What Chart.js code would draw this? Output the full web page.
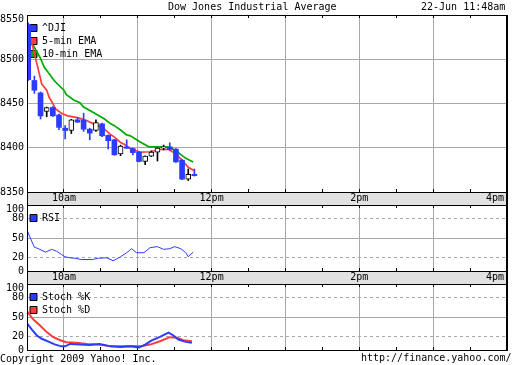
<!DOCTYPE html>
<html>
<head>
<meta charset="utf-8">
<script src="https://cdn.jsdelivr.net/npm/chart.js@4"></script>
<style>
  body { margin: 0; background: #fff; }
  #wrap { position: relative; width: 512px; height: 365px; overflow: hidden; font: 10px 'DejaVu Sans Mono', monospace; color: #000; }
  canvas { position: absolute; left: 0; }
  .txt { position: absolute; white-space: pre; line-height: 12px; }
</style>
</head>
<body>
<div id="wrap">
  <canvas id="main" width="512" height="212" style="top:0"></canvas>
  <canvas id="rsi" width="512" height="96" style="top:195px"></canvas>
  <canvas id="stoch" width="512" height="91" style="top:274px"></canvas>
  <div class="txt" style="left:168px;top:1px">Dow Jones Industrial Average</div>
  <div class="txt" style="left:421px;top:1px">22-Jun 11:48am</div>
  <div class="txt" style="left:0;top:353px">Copyright 2009 Yahoo! Inc.</div>
  <div class="txt" style="left:361px;top:352px">http://finance.yahoo.com/</div>
</div>
<script>
// axis ticks
const priceTicks = [8350, 8400, 8450, 8500, 8550]
const oscTicks = [0, 20, 50, 80, 100]
const timeTicks = ['09:30', '10:00', '10:30', '11:00', '11:30', '12:00', '12:30', '13:00',
                   '13:30', '14:00', '14:30', '15:00', '15:30', '16:00']
const labelTimes = ['10:00', '12:00', '14:00', '16:00']
const labelTexts = ['10am', '12pm', '2pm', '4pm']

// 5-min candles
const candleTimes = ['09:30', '09:35', '09:40', '09:45', '09:50', '09:55', '10:00', '10:05', '10:10', '10:15',
                     '10:20', '10:25', '10:30', '10:35', '10:40', '10:45', '10:50', '10:55', '11:00', '11:05',
                     '11:10', '11:15', '11:20', '11:25', '11:30', '11:35', '11:40', '11:45']
const openPx = [8539, 8476, 8462, 8441, 8445.5, 8437, 8422, 8419.5, 8431.5, 8431, 8421, 8419.5, 8427, 8414,
                8409, 8393, 8401, 8399, 8395, 8384.5, 8390.5, 8395, 8399.4, 8401, 8398.5, 8386, 8364.5, 8370]
const highPx = [8541, 8481, 8463, 8446, 8446.5, 8438, 8425, 8432, 8434, 8439, 8422, 8431.5, 8428, 8414.5,
                8409.5, 8403, 8409, 8399.5, 8396, 8391, 8396.5, 8400, 8403, 8405.5, 8399, 8386.5, 8376, 8376]
const lowPx = [8476, 8461.5, 8432.5, 8435, 8435.5, 8420.5, 8410, 8416, 8428.5, 8418.5, 8409, 8418.5, 8412.5, 8398.5,
               8391.5, 8391, 8399, 8392, 8384, 8381, 8390, 8385, 8397.5, 8397.5, 8383.5, 8364, 8363, 8368]
const closePx = [8477, 8465, 8436, 8445.5, 8436, 8423, 8419.5, 8431.5, 8429, 8421, 8416.5, 8428.5, 8413.5, 8408,
                 8392, 8402, 8399.5, 8394.5, 8384.5, 8390.5, 8395, 8399.5, 8401, 8398, 8384, 8364.5, 8370, 8368.5]

// moving averages
const ema5Times = ['09:34', '09:38', '09:42', '09:46', '09:48', '09:51', '09:53', '09:58', '10:03', '10:11',
                   '10:18', '10:24', '10:29', '10:33', '10:37', '10:41', '10:46', '10:49', '10:54', '11:02',
                   '11:10', '11:18', '11:25', '11:30', '11:36', '11:41', '11:46']
const ema5 = [8518, 8495, 8472, 8465, 8457, 8450, 8444, 8439, 8436, 8434, 8431, 8427, 8424, 8421, 8416, 8412,
              8406, 8404, 8399, 8395, 8395.5, 8398, 8398, 8394, 8386, 8378, 8374]
const ema10Times = ['09:35', '09:41', '09:44', '09:49', '09:52', '10:00', '10:02', '10:08', '10:13', '10:16',
                    '10:25', '10:33', '10:38', '10:41', '10:46', '10:51', '10:54', '11:02', '11:09', '11:18',
                    '11:26', '11:32', '11:39', '11:45']
const ema10 = [8516, 8501, 8491, 8482, 8476, 8465, 8460, 8454, 8451, 8446, 8439, 8432.5, 8427, 8425, 8420,
               8414.5, 8413.5, 8406.5, 8401, 8401, 8400.5, 8395.5, 8388, 8384]

// RSI
const rsiTimes = ['09:30', '09:32', '09:36', '09:39', '09:45', '09:50', '09:54', '09:58', '10:01', '10:05',
                  '10:09', '10:14', '10:23', '10:28', '10:35', '10:40', '10:46', '10:51', '10:55', '10:59',
                  '11:05', '11:10', '11:16', '11:21', '11:26', '11:30', '11:35', '11:39', '11:41', '11:45']
const rsi = [62.5, 53, 36, 34, 28.6, 32.8, 30, 25, 21.5, 20, 19.4, 17.4, 17.4, 19.4, 20, 15.4, 21.5, 27.7,
             33.8, 27.7, 27.7, 35.4, 36.9, 32.8, 33.8, 36.9, 33.8, 27.7, 21.5, 28.6]

// stochastics
const kTimes = ['09:30', '09:34', '09:38', '09:42', '09:47', '09:53', '09:58', '10:01', '10:05', '10:13',
                '10:21', '10:29', '10:38', '10:46', '10:54', '11:01', '11:06', '11:11', '11:18', '11:25',
                '11:29', '11:33', '11:39', '11:44']
const stochK = [40.5, 31, 22, 17, 13, 8.2, 5.5, 5.5, 9.2, 8.2, 7.7, 9.2, 5.5, 4.6, 5.5, 4, 8.2, 14.3, 20,
                26.2, 22, 15.8, 12.3, 10.8]
const dTimes = ['09:30', '09:35', '09:41', '09:46', '09:51', '09:57', '10:02', '10:10', '10:19', '10:29',
                '10:38', '10:46', '10:54', '11:02', '11:10', '11:18', '11:26', '11:32', '11:37', '11:44']
const stochD = [59, 46.6, 36.3, 27.1, 20, 14.8, 11.7, 10.8, 9.2, 8.2, 5.5, 5.5, 6.2, 5.5, 8.2, 13.2, 19.4,
                18.5, 14.8, 13.2]

const BLUE = '#2a3cff'
const RED = '#ff3c3c'
const GREEN = '#00aa00'
const GRID = '#a8a8a8'
const BAND = '#e1e1e1'
const FONT = "'DejaVu Sans Mono', monospace"

Chart.defaults.font.family = FONT
Chart.defaults.font.size = 10
Chart.defaults.color = '#000'

const toMin = t => {
    const [h, m] = t.split(':').map(Number)
    return h * 60 + m - 570
}
const pts = (times, vals) => times.map((t, i) => ({x: toMin(t), y: vals[i]}))
const tickValues = timeTicks.map(toMin)
const labelValues = labelTimes.map(toMin)
const isUp = i => closePx[i] > openPx[i]

function timeAxis(showLabels) {
    return {
        type: 'linear', position: 'bottom', min: 0, max: 390, offset: false,
        afterBuildTicks: s => { s.ticks = tickValues.map(v => ({value: v})) },
        afterFit: s => { s.height = showLabels ? 13 : 0; s.paddingLeft = 0; s.paddingRight = 0 },
        grid: {
            offset: false,
            color: c => (c.tick && c.tick.value % 60 === 30) ? GRID : 'rgba(0,0,0,0)',
            tickLength: -3, tickColor: '#000', tickWidth: 1
        },
        border: { color: '#000' },
        ticks: {
            display: showLabels, autoSkip: false, maxRotation: 0, minRotation: 0, padding: 3,
            callback: v => {
                const i = labelValues.indexOf(v)
                if (i < 0) return ''
                // last label sits inside the right frame
                return v === 390 ? labelTexts[i].padEnd(7) : labelTexts[i]
            }
        }
    }
}

const topAxis = {
    type: 'linear', position: 'top', min: 0, max: 390, offset: false,
    afterBuildTicks: s => { s.ticks = tickValues.map(v => ({value: v})) },
    afterFit: s => { s.height = 0 },
    grid: { offset: false, drawOnChartArea: false, tickLength: -3, tickColor: '#000' },
    border: { display: false },
    ticks: { display: false }
}

function valueAxis(ticks, min, max, dashed) {
    return {
        type: 'linear', min: min, max: max,
        afterBuildTicks: s => { s.ticks = ticks.map(v => ({value: v})) },
        afterFit: s => { s.width = 27; s.paddingTop = 0; s.paddingBottom = 0 },
        grid: {
            drawTicks: false,
            color: c => (c.tick && c.tick.value > min && c.tick.value < max) ? GRID : 'rgba(0,0,0,0)'
        },
        border: {
            color: '#000',
            dash: c => (dashed && c.tick && c.tick.value !== 50) ? [3, 3] : []
        },
        ticks: {
            padding: 3, autoSkip: false, font: { lineHeight: 0.8 },
            // top label hangs just below the frame line
            callback: v => v === max ? ['', String(v)] : String(v)
        }
    }
}

const frame = {
    id: 'frame',
    beforeDraw(chart) {
        const {ctx, chartArea: a, scales: {x}} = chart
        if (x.bottom > a.bottom) {
            ctx.fillStyle = BAND
            ctx.fillRect(a.left, a.bottom, a.right - a.left, x.bottom - a.bottom)
        }
    },
    afterDraw(chart) {
        const {ctx, chartArea: a, scales: {x}} = chart
        ctx.save()
        ctx.strokeStyle = '#000'
        ctx.lineWidth = 1
        ctx.strokeRect(a.left + 0.5, a.top + 0.5, a.right - a.left, x.bottom - a.top)
        ctx.fillStyle = '#000'
        ctx.fillRect(a.right - 1, a.top, 2, x.bottom - a.top + 1)
        ctx.restore()
    }
}

// a vertical legend inside the chart area starts at the canvas top,
// so the empty title pushes it down below the frame
function legendOpts(topPad) {
    return {
        position: 'chartArea', align: 'start',
        title: { display: true, text: '', padding: {top: topPad + 5, bottom: 0}, font: {size: 0} },
        labels: {
            boxWidth: 7, boxHeight: 7, padding: 3, color: '#000',
            font: { family: FONT, size: 10 },
            generateLabels: chart => chart.data.datasets
                .map((d, i) => ({text: d.label, fillStyle: d.legendColor, strokeStyle: '#000',
                                 lineWidth: 1, hidden: false, datasetIndex: i}))
                .filter(item => item.text)
        }
    }
}

function baseOptions(padding, scales) {
    return {
        responsive: false, animation: false, devicePixelRatio: 1, events: [],
        layout: { padding: padding },
        scales: scales,
        plugins: { legend: legendOpts(padding.top), tooltip: { enabled: false } }
    }
}

const lineStyle = (color, width) => ({
    type: 'line', borderColor: color, borderWidth: width, pointRadius: 0, tension: 0, fill: false
})

new Chart(document.getElementById('main'), {
    type: 'line',
    data: {
        datasets: [
            {
                type: 'bar', label: '^DJI', legendColor: BLUE, order: 0, grouped: false,
                data: candleTimes.map((t, i) => ({x: toMin(t) + 1, y: [openPx[i], closePx[i]]})),
                barThickness: 5, borderSkipped: false,
                backgroundColor: c => isUp(c.dataIndex) ? '#fff' : BLUE,
                borderColor: c => isUp(c.dataIndex) ? '#000' : BLUE,
                borderWidth: c => isUp(c.dataIndex) ? 1 : 0
            },
            { ...lineStyle(RED, 1.7), label: '5-min EMA', legendColor: RED, order: 2, data: pts(ema5Times, ema5) },
            { ...lineStyle(GREEN, 1.7), label: '10-min EMA', legendColor: GREEN, order: 3, data: pts(ema10Times, ema10) },
            {
                type: 'bar', order: 1, grouped: false, barThickness: 1, borderWidth: 0,
                data: candleTimes.map((t, i) => ({x: toMin(t) + 1, y: [lowPx[i], highPx[i]]})),
                backgroundColor: c => isUp(c.dataIndex) ? '#000' : BLUE
            }
        ]
    },
    options: baseOptions({left: 0, right: 5, top: 15, bottom: 7}, {
        x: timeAxis(true),
        xTop: topAxis,
        y: valueAxis(priceTicks, 8350, 8550, false)
    }),
    plugins: [frame]
})

new Chart(document.getElementById('rsi'), {
    type: 'line',
    data: {
        datasets: [
            { ...lineStyle(BLUE, 1), label: 'RSI', legendColor: BLUE, data: pts(rsiTimes, rsi) }
        ]
    },
    options: baseOptions({left: 0, right: 5, top: 10, bottom: 7}, {
        x: timeAxis(true),
        xTop: topAxis,
        y: valueAxis(oscTicks, 0, 100, true)
    }),
    plugins: [frame]
})

new Chart(document.getElementById('stoch'), {
    type: 'line',
    data: {
        datasets: [
            { ...lineStyle(RED, 2), label: 'Stoch %D', legendColor: RED, order: 1, data: pts(dTimes, stochD) },
            { ...lineStyle(BLUE, 2), label: 'Stoch %K', legendColor: BLUE, order: 0, data: pts(kTimes, stochK) }
        ]
    },
    options: (() => {
        const o = baseOptions({left: 0, right: 5, top: 10, bottom: 15}, {
            x: timeAxis(false),
            xTop: topAxis,
            y: valueAxis(oscTicks, 0, 100, true)
        })
        // %K listed first in the legend
        o.plugins.legend.labels.sort = (a, b) => b.datasetIndex - a.datasetIndex
        return o
    })(),
    plugins: [frame]
})
</script>
</body>
</html>
